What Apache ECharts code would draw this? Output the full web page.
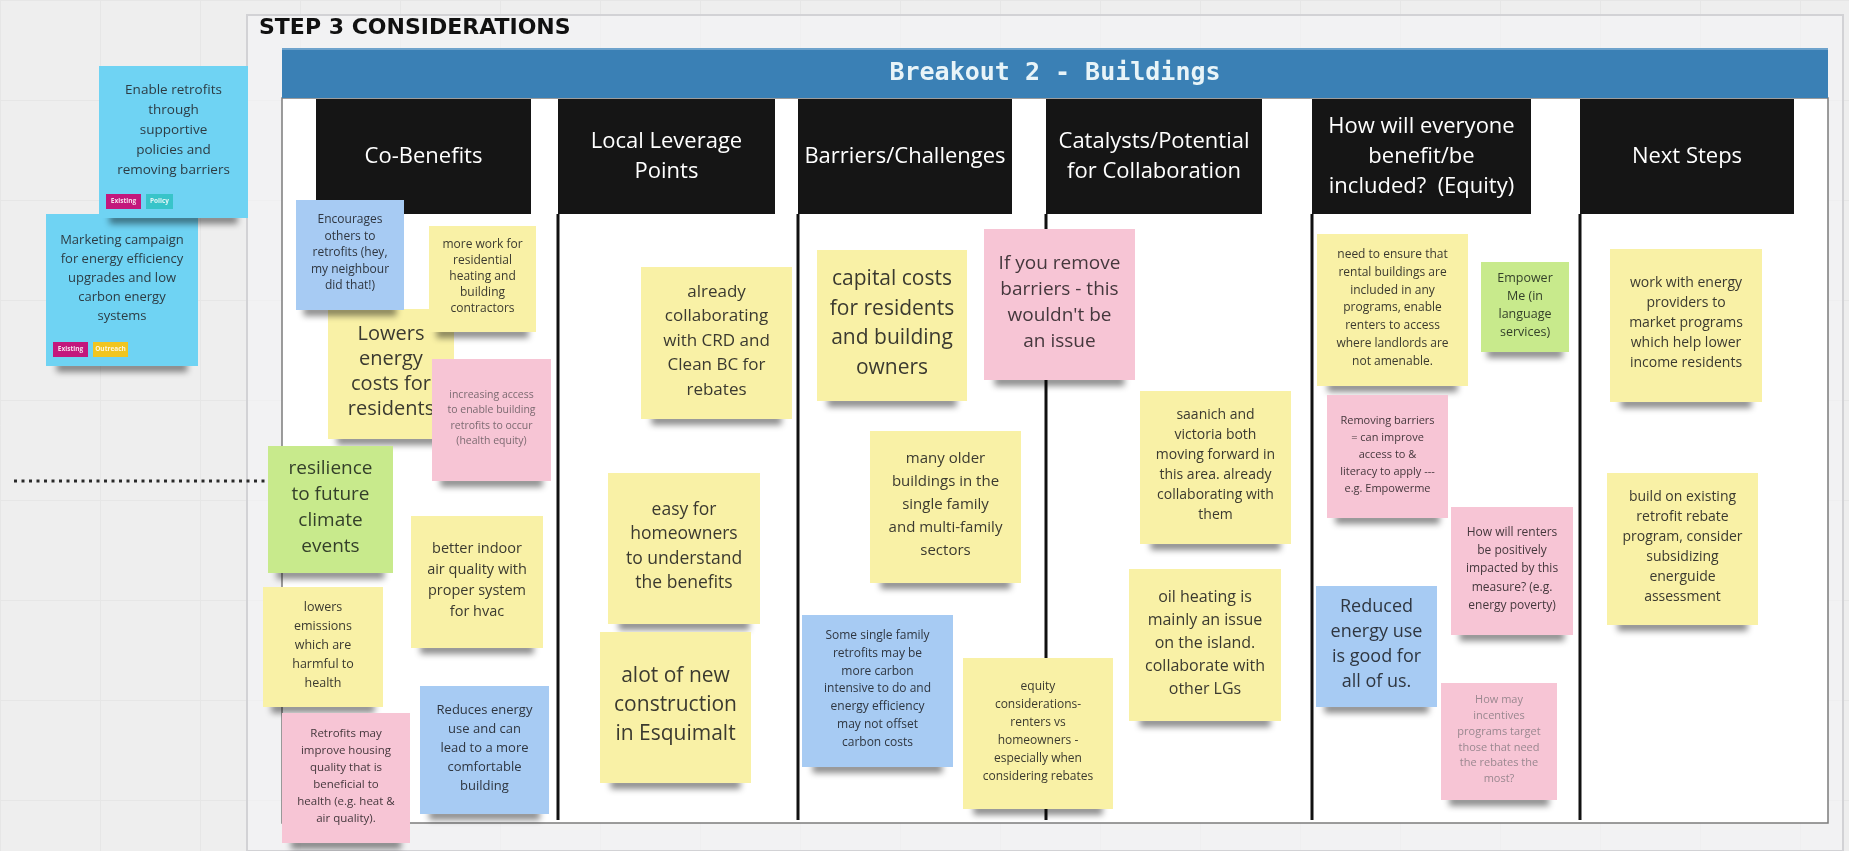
<!DOCTYPE html>
<html>
<head>
<meta charset="utf-8">
<style>
  html, body { margin: 0; padding: 0; background: #eeeeee; }
  #chart { width: 1849px; height: 851px; }
</style>
<script src="https://cdn.jsdelivr.net/npm/echarts@6/dist/echarts.min.js"></script>
</head>
<body>
<div id="chart"></div>
<script>
// ================= DATA (board content) =================
const boardTitle = 'STEP 3 CONSIDERATIONS';
const bannerTitle = 'Breakout 2 - Buildings';

const columnNames = [
  'Co-Benefits',
  'Local Leverage\nPoints',
  'Barriers/Challenges',
  'Catalysts/Potential\nfor Collaboration',
  'How will everyone\nbenefit/be\nincluded?  (Equity)',
  'Next Steps'
];
// column header extents on the board (board units)
const columnLeft  = [316, 558, 798, 1046, 1312, 1580];
const columnRight = [531, 775, 1012, 1262, 1531, 1794];

// sticky notes (drawing order = stacking order)
const noteText = [
  'Marketing campaign\nfor energy efficiency\nupgrades and low\ncarbon energy\nsystems',
  'Enable retrofits\nthrough\nsupportive\npolicies and\nremoving barriers',
  'Lowers\nenergy\ncosts for\nresidents',
  'Encourages\nothers to\nretrofits (hey,\nmy neighbour\ndid that!)',
  'more work for\nresidential\nheating and\nbuilding\ncontractors',
  'increasing access\nto enable building\nretrofits to occur\n(health equity)',
  'resilience\nto future\nclimate\nevents',
  'better indoor\nair quality with\nproper system\nfor hvac',
  'lowers\nemissions\nwhich are\nharmful to\nhealth',
  'Retrofits may\nimprove housing\nquality that is\nbeneficial to\nhealth (e.g. heat &\nair quality).',
  'Reduces energy\nuse and can\nlead to a more\ncomfortable\nbuilding',
  'already\ncollaborating\nwith CRD and\nClean BC for\nrebates',
  'easy for\nhomeowners\nto understand\nthe benefits',
  'alot of new\nconstruction\nin Esquimalt',
  'capital costs\nfor residents\nand building\nowners',
  'If you remove\nbarriers - this\nwouldn\'t be\nan issue',
  'many older\nbuildings in the\nsingle family\nand multi-family\nsectors',
  'Some single family\nretrofits may be\nmore carbon\nintensive to do and\nenergy efficiency\nmay not offset\ncarbon costs',
  'equity\nconsiderations-\nrenters vs\nhomeowners -\nespecially when\nconsidering rebates',
  'saanich and\nvictoria both\nmoving forward in\nthis area. already\ncollaborating with\nthem',
  'oil heating is\nmainly an issue\non the island.\ncollaborate with\nother LGs',
  'need to ensure that\nrental buildings are\nincluded in any\nprograms, enable\nrenters to access\nwhere landlords are\nnot amenable.',
  'Empower\nMe (in\nlanguage\nservices)',
  'Removing barriers\n= can improve\naccess to &\nliteracy to apply ---\ne.g. Empowerme',
  'How will renters\nbe positively\nimpacted by this\nmeasure? (e.g.\nenergy poverty)',
  'Reduced\nenergy use\nis good for\nall of us.',
  'How may\nincentives\nprograms target\nthose that need\nthe rebates the\nmost?',
  'work with energy\nproviders to\nmarket programs\nwhich help lower\nincome residents',
  'build on existing\nretrofit rebate\nprogram, consider\nsubsidizing\nenerguide\nassessment'
];
// note position on the board (board units)
const noteX = [46, 99, 328, 296, 429, 432, 268, 411, 263, 282, 420, 641, 608, 600, 817, 984, 870, 802, 963, 1140, 1129, 1317, 1481, 1327, 1451, 1316, 1441, 1610, 1607];
const noteY = [214, 66, 309, 200, 226, 359, 446, 516, 587, 713, 686, 267, 473, 632, 250, 229, 431, 615, 658, 391, 569, 234, 262, 395, 507, 586, 683, 249, 473];
const noteW = [152, 149, 126, 108, 107, 119, 125, 132, 120, 128, 129, 151, 152, 151, 150, 151, 151, 151, 150, 151, 152, 151, 88, 121, 122, 121, 116, 152, 151];
const noteH = [152, 152, 130, 110, 106, 122, 127, 132, 120, 130, 128, 152, 151, 151, 151, 151, 152, 152, 151, 153, 152, 152, 90, 123, 128, 121, 117, 153, 152];
// note paper kind
const noteKind = ['cyan', 'cyan', 'yellow', 'blue', 'yellow', 'pink', 'green', 'yellow', 'yellow', 'pink', 'blue',
  'yellow', 'yellow', 'yellow', 'yellow', 'pink', 'yellow', 'blue', 'yellow', 'yellow', 'yellow',
  'yellow', 'green', 'pink', 'pink', 'blue', 'pink', 'yellow', 'yellow'];

// tags on the two cluster notes
const tagNote = [1, 1, 0, 0];
const tagText = ['Existing', 'Policy', 'Existing', 'Outreach'];
const tagKind = ['magenta', 'teal', 'magenta', 'gold'];

// connector (dotted) from the left edge to the resilience note
const connectorFrom = [14, 481];
const connectorTo = [268, 481];

// ================= LAYOUT & STYLE =================
const frameBox  = [247, 15, 1843, 851];
const panelBox  = [282, 98, 1828, 823];
const bannerBox = [282, 48, 1828, 98];
const headerTop = 99, headerBottom = 214, dividerBottom = 820;
const titleAnchor = [259, 28];

const noteFontSize = [13, 13.5, 20, 12, 12, 10.5, 19, 14.5, 12.5, 11.5, 13, 17, 17.5, 21, 21, 19, 15, 12, 12, 14, 16, 12, 12.5, 11, 12, 18, 11, 14, 14];
const noteLineHeight = [19, 20, 25, 16.5, 16, 15.5, 26, 21, 19, 17, 19, 24.5, 24.5, 29, 29.5, 26, 23, 17.7, 18, 20, 23, 17.7, 18, 17, 18.4, 25, 15.8, 20, 20];
const noteFaint = {5: '#7d6b72', 26: '#9a8890'};

const paper = {
  yellow: '#f9f1a6',
  pink: '#f7c5d5',
  blue: '#a7cbf3',
  green: '#c8ea8c',
  cyan: '#6fd3f3'
};
const inkColor = {
  yellow: '#3b3a30',
  pink: '#45383d',
  blue: '#2f3640',
  green: '#34402a',
  cyan: '#2d3c44'
};
const tagColor = { magenta: '#c3177c', teal: '#38c4c9', gold: '#f1c51f' };
const noteFont = '"Open Sans", "Noto Sans", sans-serif';

function rectOf(api, x1, y1, x2, y2) {
  const p = api.coord([x1, y1]);
  const q = api.coord([x2, y2]);
  return { x: p[0], y: p[1], width: q[0] - p[0], height: q[1] - p[1] };
}

const chart = echarts.init(document.getElementById('chart'), null, { renderer: 'canvas' });

const option = {
  backgroundColor: '#eeeeee',
  animation: false,
  grid: { left: 0, right: 0, top: 0, bottom: 0 },
  xAxis: {
    type: 'value', min: 0, max: 1849, interval: 100,
    axisLine: { show: false }, axisTick: { show: false }, axisLabel: { show: false },
    splitLine: { show: true, lineStyle: { color: '#e6e6e6', width: 1 } }
  },
  yAxis: {
    type: 'value', min: 0, max: 851, interval: 100, inverse: true,
    axisLine: { show: false }, axisTick: { show: false }, axisLabel: { show: false },
    splitLine: { show: true, lineStyle: { color: '#e6e6e6', width: 1 } }
  },
  series: [
    // frame of the board
    {
      type: 'custom', name: 'frame', clip: false, silent: true,
      data: [frameBox],
      renderItem: function (params, api) {
        const r = rectOf(api, api.value(0), api.value(1), api.value(2), api.value(3));
        return { type: 'rect', shape: r, style: { fill: 'rgba(246,246,248,0.55)', stroke: '#d2d2d5', lineWidth: 2 } };
      }
    },
    // white panel
    {
      type: 'custom', name: 'panel', clip: false, silent: true,
      data: [panelBox],
      renderItem: function (params, api) {
        const r = rectOf(api, api.value(0), api.value(1), api.value(2), api.value(3));
        return { type: 'rect', shape: r, style: { fill: '#ffffff', stroke: '#7c7c7c', lineWidth: 1.5 } };
      }
    },
    // blue banner
    {
      type: 'custom', name: 'banner', clip: false, silent: true,
      data: [bannerBox],
      renderItem: function (params, api) {
        const r = rectOf(api, api.value(0), api.value(1), api.value(2), api.value(3));
        return {
          type: 'group', children: [
            { type: 'rect', shape: r, style: { fill: '#3a80b5' } },
            { type: 'rect', shape: { x: r.x, y: r.y, width: r.width, height: 2 }, style: { fill: '#6ea3cc' } },
            {
              type: 'text',
              style: {
                text: bannerTitle, x: r.x + r.width / 2, y: r.y + r.height / 2,
                align: 'center', verticalAlign: 'middle',
                fontFamily: '"DejaVu Sans Mono", monospace', fontWeight: 'bold', fontSize: 25,
                fill: '#e8f4f8'
              }
            }
          ]
        };
      }
    },
    // board title
    {
      type: 'custom', name: 'title', clip: false, silent: true,
      data: [titleAnchor],
      renderItem: function (params, api) {
        const p = api.coord([api.value(0), api.value(1)]);
        return {
          type: 'text',
          style: {
            text: boardTitle, x: p[0], y: p[1], align: 'left', verticalAlign: 'middle',
            fontFamily: '"DejaVu Sans", sans-serif', fontWeight: 'bold', fontSize: 22, fill: '#111111'
          }
        };
      }
    },
    // column dividers
    {
      type: 'custom', name: 'dividers', clip: false, silent: true,
      data: columnLeft.slice(1).map(function (x) { return [x, headerBottom, dividerBottom]; }),
      renderItem: function (params, api) {
        const p = api.coord([api.value(0), api.value(1)]);
        const q = api.coord([api.value(0), api.value(2)]);
        return { type: 'line', shape: { x1: p[0], y1: p[1], x2: q[0], y2: q[1] }, style: { stroke: '#111111', lineWidth: 3 } };
      }
    },
    // column headers
    {
      type: 'custom', name: 'headers', clip: false, silent: true,
      data: columnNames.map(function (n, i) { return [columnLeft[i], headerTop, columnRight[i], headerBottom, i]; }),
      renderItem: function (params, api) {
        const r = rectOf(api, api.value(0), api.value(1), api.value(2), api.value(3));
        const i = api.value(4);
        return {
          type: 'group', children: [
            { type: 'rect', shape: r, style: { fill: '#151515' } },
            {
              type: 'text',
              style: {
                text: columnNames[i], x: r.x + r.width / 2, y: r.y + r.height / 2,
                align: 'center', verticalAlign: 'middle',
                fontFamily: noteFont, fontSize: 22, lineHeight: 30, fill: '#ffffff'
              }
            }
          ]
        };
      }
    },
    // dotted connector
    {
      type: 'custom', name: 'connector', clip: false, silent: true,
      data: [[connectorFrom[0], connectorFrom[1], connectorTo[0], connectorTo[1]]],
      renderItem: function (params, api) {
        const p = api.coord([api.value(0), api.value(1)]);
        const q = api.coord([api.value(2), api.value(3)]);
        return { type: 'line', shape: { x1: p[0], y1: p[1], x2: q[0], y2: q[1] }, style: { stroke: '#2a2a2a', lineWidth: 3, lineDash: [3, 4.5] } };
      }
    },
    // sticky notes
    {
      type: 'custom', name: 'notes', clip: false, silent: true,
      data: noteText.map(function (t, i) { return [noteX[i], noteY[i], noteX[i] + noteW[i], noteY[i] + noteH[i], i]; }),
      renderItem: function (params, api) {
        const r = rectOf(api, api.value(0), api.value(1), api.value(2), api.value(3));
        const i = api.value(4);
        const kind = noteKind[i];
        const hasTags = tagNote.indexOf(i) >= 0;
        return {
          type: 'group', children: [
            {
              type: 'rect',
              shape: { x: r.x + r.width * 0.07, y: r.y + r.height - 10, width: r.width * 0.86, height: 10 },
              style: { fill: 'rgba(0,0,0,0.6)', shadowBlur: 6, shadowOffsetY: 6, shadowColor: 'rgba(0,0,0,0.75)' }
            },
            { type: 'rect', shape: r, style: { fill: paper[kind] } },
            {
              type: 'text',
              style: {
                text: noteText[i], x: r.x + r.width / 2, y: r.y + r.height / 2 - (hasTags ? 12 : 2),
                align: 'center', verticalAlign: 'middle',
                fontFamily: noteFont, fontSize: noteFontSize[i], lineHeight: noteLineHeight[i],
                fill: noteFaint[i] || inkColor[kind]
              }
            }
          ]
        };
      }
    },
    // tags
    {
      type: 'custom', name: 'tags', clip: false, silent: true,
      data: tagText.map(function (t, k) { return [k]; }),
      renderItem: function (params, api) {
        const k = api.value(0);
        const n = tagNote[k];
        let offset = 7;
        for (let j = 0; j < k; j++) {
          if (tagNote[j] === n) offset += tagText[j].length * 4 + 3 + 5;
        }
        const w = tagText[k].length * 4 + 3;
        const r = rectOf(api, noteX[n] + offset, noteY[n] + noteH[n] - 24, noteX[n] + offset + w, noteY[n] + noteH[n] - 9);
        return {
          type: 'group', children: [
            { type: 'rect', shape: r, style: { fill: tagColor[tagKind[k]] } },
            {
              type: 'text',
              style: {
                text: tagText[k], x: r.x + r.width / 2, y: r.y + r.height / 2,
                align: 'center', verticalAlign: 'middle',
                fontFamily: noteFont, fontSize: 6.5, fontWeight: 'bold', fill: 'rgba(255,255,255,0.85)'
              }
            }
          ]
        };
      }
    }
  ]
};

chart.setOption(option);
</script>
</body>
</html>
